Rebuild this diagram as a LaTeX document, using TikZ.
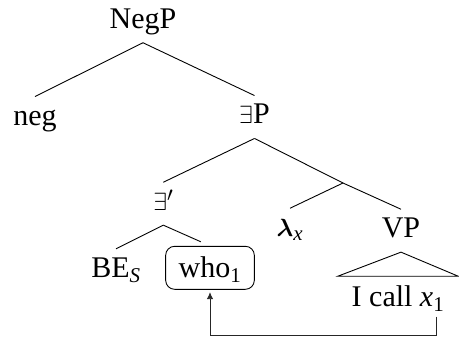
\documentclass[tikz,border=0pt]{standalone}
\usepackage{amsmath}
\usepackage{fontspec}
\setmainfont{Liberation Serif}
\usetikzlibrary{arrows.meta}
\begin{document}
\begin{tikzpicture}[x=1pt,y=-1pt,
  font=\fontsize{30}{34}\selectfont,
  every path/.style={line width=0.9pt},
  lbl/.style={anchor=base,inner xsep=0pt,inner ysep=8pt,text height=20pt,text depth=6pt},
  roof/.style={anchor=base,inner xsep=13.5pt,inner ysep=10pt,text height=20pt,text depth=6pt},
  whobox/.style={anchor=base,draw,rounded corners=9pt,inner xsep=13pt,inner ysep=9pt,text height=22pt,text depth=3pt},
  move/.style={draw=black!85,-{Latex[length=7pt,width=6.5pt]},shorten >=2.4pt}]
\useasboundingbox (0,0) rectangle (459,340);

% labels of the tree
\node[lbl] (negp) at (143,28.3) {NegP};
\node[lbl] (neg) at (35,125) {neg};
\node[lbl] (ep) at (254.5,124) {$\exists$P};
\node[lbl] (epr) at (163.3,210.7) {$\exists'$};
\coordinate (seg) at (343,183);
\node[lbl] (lam) at (290,236.7) {$\boldsymbol{\lambda}$\textsubscript{\textit{x}}};
\node[lbl] (vp) at (401,237.7) {VP};
\node[lbl] (bes) at (116,277.3) {BE\textsubscript{\textit{S}}};
\node[whobox] (who) at (210,277.3) {who\textsubscript{1}};
\node[roof] (icall) at (398,306.7) {I call \textit{x}\textsubscript{1}};

% branches
\draw (negp.south) -- (neg.north);
\draw (negp.south) -- (ep.north);
\draw (ep.south) -- (epr.north);
\draw (ep.south) -- (seg);
\draw (seg) -- (lam.north);
\draw (seg) -- (vp.north);
\draw (epr.south) -- (bes.north);
\draw[shorten >=10pt] (epr.south) -- (who.north);
\draw (vp.south) -- (icall.north west) -- (icall.north east) -- cycle;

% movement arrow
\coordinate (trace) at (436,316.7);
\draw[move] (trace) -- ++(0,18.3) -| (who.south);
\end{tikzpicture}
\end{document}
